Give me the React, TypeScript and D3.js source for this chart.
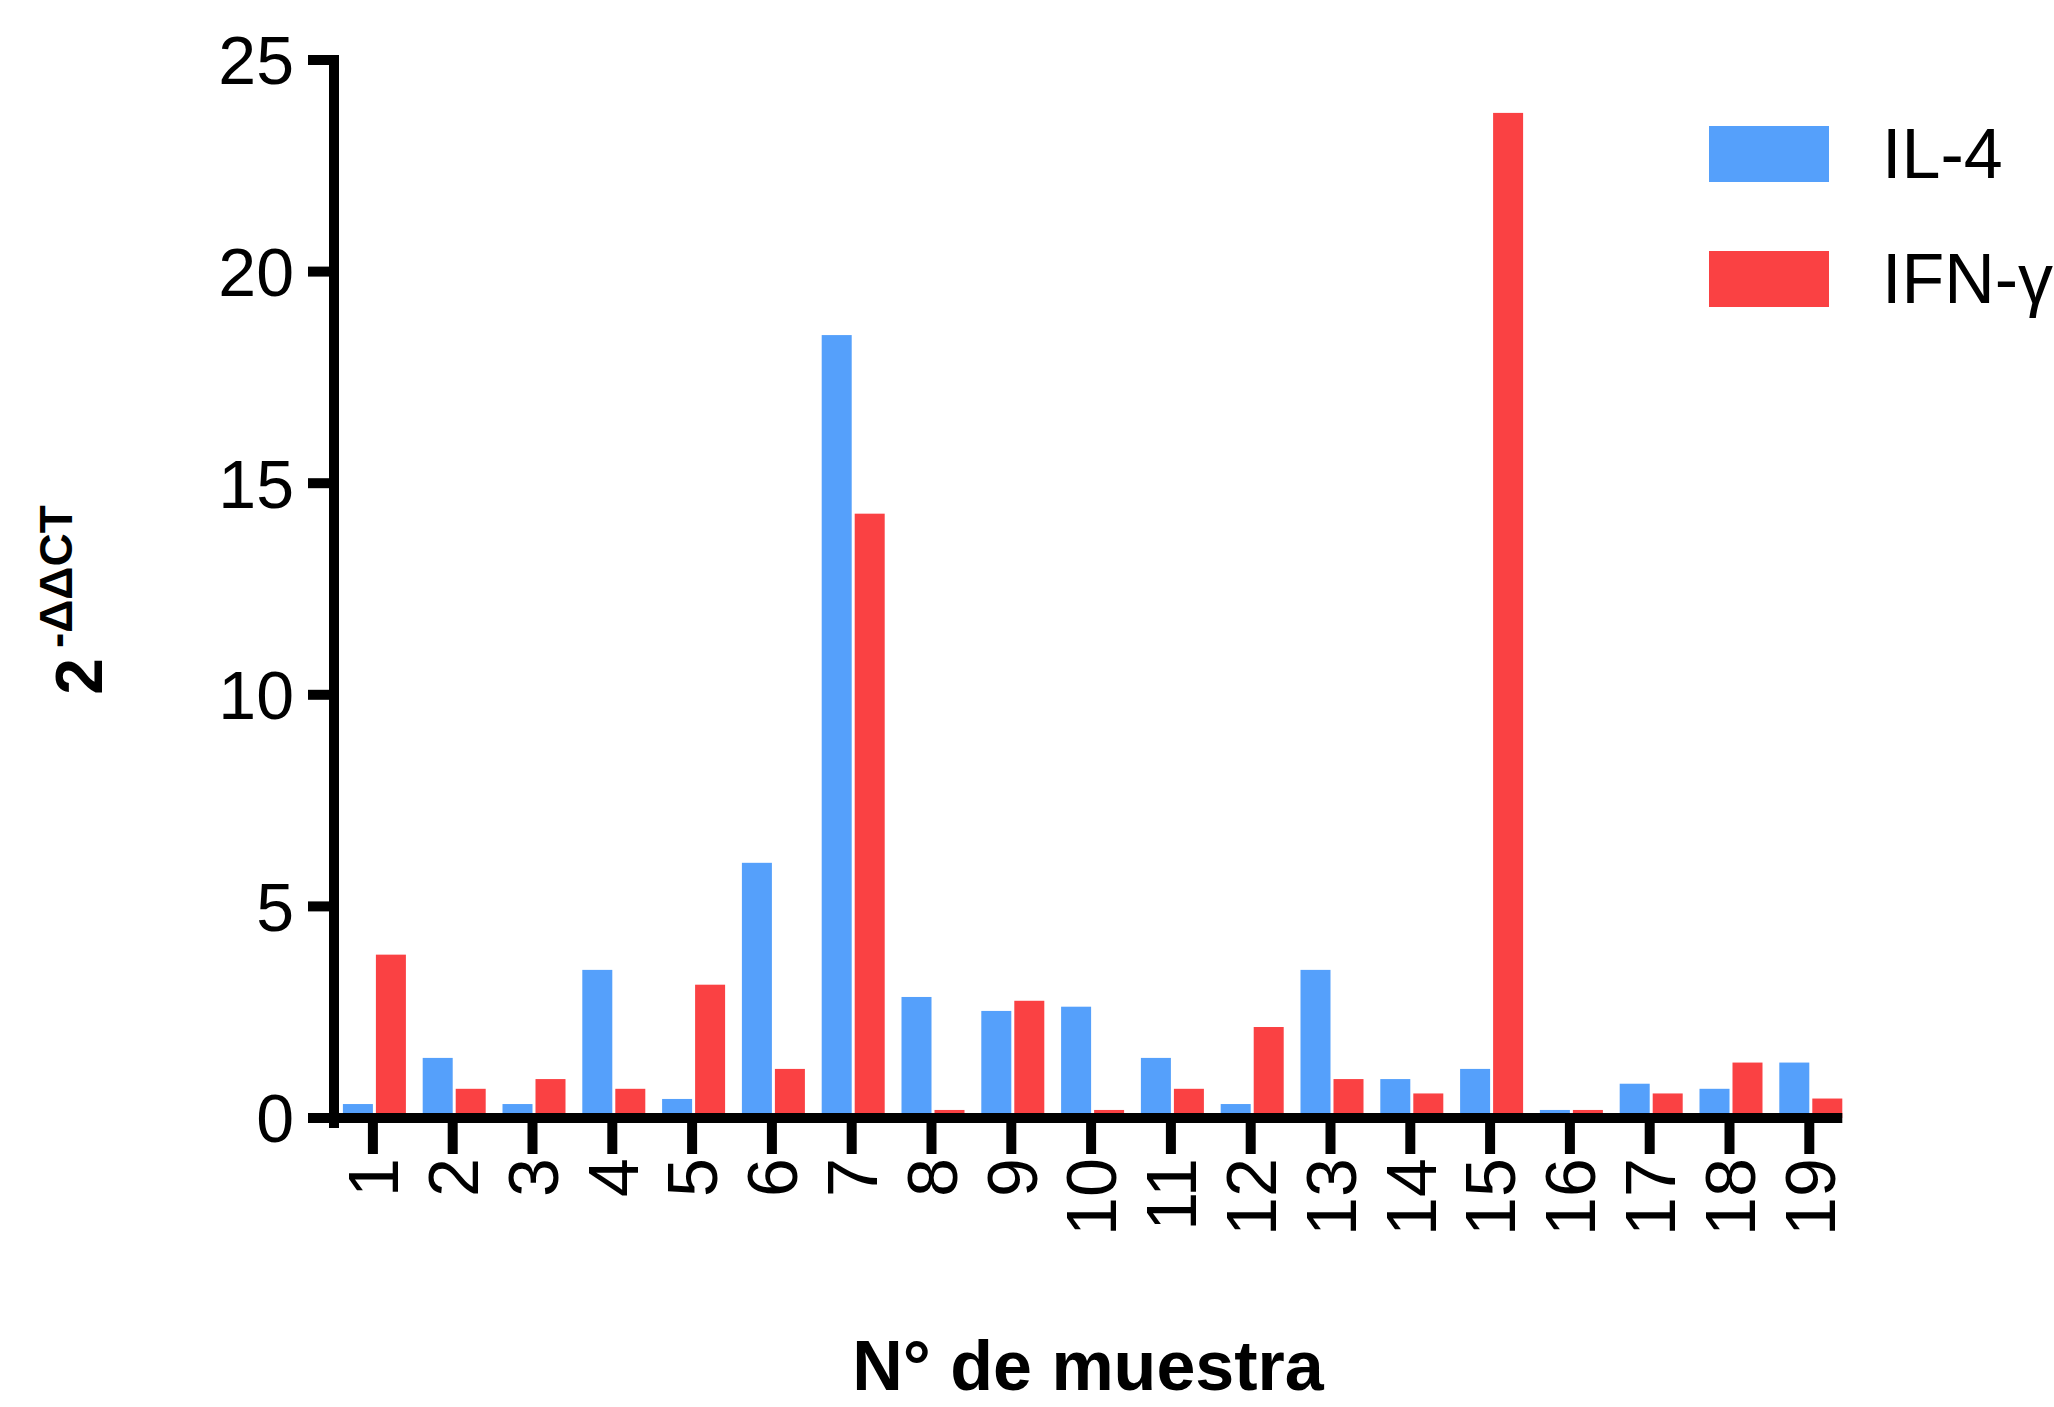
import React, { useEffect, useRef } from 'react';
import * as d3 from 'd3';

const samples = ['1', '2', '3', '4', '5', '6', '7', '8', '9', '10', '11', '12', '13', '14', '15', '16', '17', '18', '19'];
const il4 = [0.33, 1.42, 0.33, 3.5, 0.45, 6.03, 18.5, 2.86, 2.53, 2.63, 1.42, 0.33, 3.5, 0.92, 1.16, 0.19, 0.81, 0.69, 1.31];
const ifng = [3.86, 0.69, 0.92, 0.69, 3.15, 1.16, 14.28, 0.19, 2.77, 0.19, 0.69, 2.15, 0.92, 0.58, 23.75, 0.19, 0.58, 1.31, 0.46];
const yTicks = [0, 5, 10, 15, 20, 25];
const seriesNames = ['IL-4', 'IFN-γ'];
const seriesColors = ['#55a0fb', '#fa4143'];

const FONT = '"Liberation Sans", Arial, sans-serif';

const App: React.FC = () => {
  const svgRef = useRef<SVGSVGElement>(null);

  useEffect(() => {
    if (!svgRef.current) return;
    const svg = d3.select(svgRef.current);
    svg.selectAll('*').remove();

    const width = 2054;
    const height = 1407;
    svg.attr('width', width).attr('height', height);

    // Scales
    const x = d3.scaleBand<string>()
      .domain(samples)
      .range([333, 333 + 19 * 79.8])
      .padding(0);

    const y = d3.scaleLinear()
      .domain([0, 25])
      .range([1118, 60]);

    const barW = 30;
    const center = (s: string) => (x(s) || 0) + x.bandwidth() / 2;

    // Bars
    const g = svg.append('g');
    g.selectAll('.bar-il4')
      .data(samples)
      .enter()
      .append('rect')
      .attr('class', 'bar-il4')
      .attr('x', d => center(d) - barW)
      .attr('width', barW)
      .attr('y', (d, i) => y(il4[i]))
      .attr('height', (d, i) => y(0) - y(il4[i]))
      .attr('fill', seriesColors[0]);

    g.selectAll('.bar-ifng')
      .data(samples)
      .enter()
      .append('rect')
      .attr('class', 'bar-ifng')
      .attr('x', d => center(d) + 3)
      .attr('width', barW)
      .attr('y', (d, i) => y(ifng[i]))
      .attr('height', (d, i) => y(0) - y(ifng[i]))
      .attr('fill', seriesColors[1]);

    const axisX = 334;
    const xEnd = center(samples[samples.length - 1]) + 33;

    // Y axis line + ticks
    svg.append('line')
      .attr('x1', axisX).attr('x2', axisX)
      .attr('y1', y(25) - 5).attr('y2', y(0) + 10)
      .attr('stroke', '#000').attr('stroke-width', 10);

    svg.selectAll('.ytick')
      .data(yTicks)
      .enter()
      .append('line')
      .attr('class', 'ytick')
      .attr('x1', 308).attr('x2', axisX)
      .attr('y1', d => y(d)).attr('y2', d => y(d))
      .attr('stroke', '#000').attr('stroke-width', 10);

    svg.selectAll('.ylabel')
      .data(yTicks)
      .enter()
      .append('text')
      .attr('class', 'ylabel')
      .attr('x', 294)
      .attr('y', d => y(d))
      .attr('dy', '0.36em')
      .attr('text-anchor', 'end')
      .attr('font-family', FONT)
      .attr('font-size', 68)
      .attr('fill', '#000')
      .text(d => d);

    // X axis line + ticks
    svg.append('line')
      .attr('x1', 308).attr('x2', xEnd)
      .attr('y1', y(0)).attr('y2', y(0))
      .attr('stroke', '#000').attr('stroke-width', 10);

    svg.selectAll('.xtick')
      .data(samples)
      .enter()
      .append('line')
      .attr('class', 'xtick')
      .attr('x1', d => center(d)).attr('x2', d => center(d))
      .attr('y1', y(0)).attr('y2', 1154)
      .attr('stroke', '#000').attr('stroke-width', 10);

    svg.selectAll('.xlabel')
      .data(samples)
      .enter()
      .append('text')
      .attr('class', 'xlabel')
      .attr('transform', d => `translate(${center(d)},1158) rotate(-90)`)
      .attr('dy', '0.36em')
      .attr('text-anchor', 'end')
      .attr('font-family', FONT)
      .attr('font-size', 70)
      .attr('fill', '#000')
      .text(d => d);

    // Axis titles
    svg.append('text')
      .attr('x', 1088)
      .attr('y', 1390)
      .attr('text-anchor', 'middle')
      .attr('font-family', FONT)
      .attr('font-weight', 'bold')
      .attr('font-size', 70)
      .attr('fill', '#000')
      .text('N° de muestra');

    const yTitle = svg.append('text')
      .attr('transform', 'translate(102,600) rotate(-90)')
      .attr('text-anchor', 'middle')
      .attr('font-family', FONT)
      .attr('font-weight', 'bold')
      .attr('fill', '#000');
    yTitle.append('tspan').attr('font-size', 66).text('2');
    yTitle.append('tspan')
      .attr('font-size', 46)
      .attr('dx', 10)
      .attr('dy', -30)
      .text('-ΔΔCT');

    // Legend
    const legend = svg.append('g');
    seriesNames.forEach((name, i) => {
      const ly = 126 + i * 125;
      legend.append('rect')
        .attr('x', 1709).attr('y', ly)
        .attr('width', 120).attr('height', 56)
        .attr('fill', seriesColors[i]);
      legend.append('text')
        .attr('x', 1882).attr('y', ly + 52)
        .attr('font-family', FONT)
        .attr('font-size', 70)
        .attr('fill', '#000')
        .text(name);
    });
  }, []);

  return (
    <div style={{ position: 'absolute', left: 0, top: 0, background: '#fff' }}>
      <svg ref={svgRef} style={{ display: 'block' }}></svg>
    </div>
  );
};

export default App;
